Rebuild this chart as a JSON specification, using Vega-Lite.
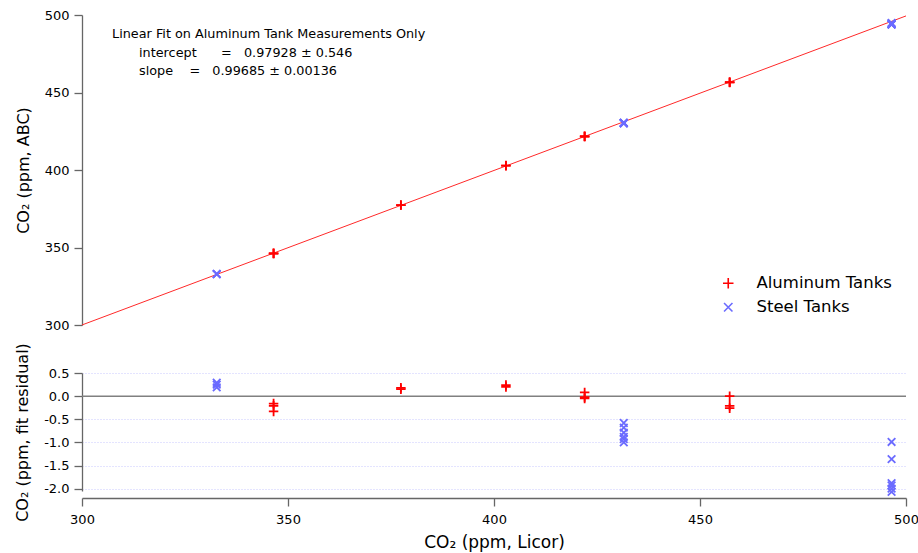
{
  "$schema": "https://vega.github.io/schema/vega-lite/v6.json",
  "padding": {"left": 14, "top": 9, "right": 5, "bottom": 5},
  "bounds": "flush",
  "spacing": 48,
  "background": "white",
  "config": {
    "font": "DejaVu Sans",
    "view": {"stroke": null},
    "axis": {
      "domainColor": "#666666",
      "domainWidth": 1.3,
      "tickColor": "#666666",
      "tickWidth": 1.3,
      "tickSize": 8,
      "tickCount": 12,
      "labelColor": "#000000",
      "labelFontSize": 13,
      "labelFont": "DejaVu Sans",
      "titleFont": "DejaVu Sans",
      "titleFontSize": 16,
      "titleFontWeight": "normal",
      "titleColor": "#000000",
      "labelOverlap": false,
      "labelFlush": false,
      "grid": false
    },
    "legend": {"labelFont": "DejaVu Sans"}
  },
  "datasets": {
    "meas": [
      {"tank": "Steel Tanks", "licor": 332.7, "abc": 332.92, "resid": 0.29},
      {"tank": "Steel Tanks", "licor": 332.7, "abc": 332.88, "resid": 0.25},
      {"tank": "Steel Tanks", "licor": 332.7, "abc": 332.82, "resid": 0.19},
      {"tank": "Aluminum Tanks", "licor": 346.5, "abc": 346.23, "resid": -0.16},
      {"tank": "Aluminum Tanks", "licor": 346.5, "abc": 346.18, "resid": -0.21},
      {"tank": "Aluminum Tanks", "licor": 346.5, "abc": 346.06, "resid": -0.33},
      {"tank": "Aluminum Tanks", "licor": 377.4, "abc": 377.34, "resid": 0.15},
      {"tank": "Aluminum Tanks", "licor": 377.4, "abc": 377.37, "resid": 0.18},
      {"tank": "Aluminum Tanks", "licor": 402.9, "abc": 402.81, "resid": 0.2},
      {"tank": "Aluminum Tanks", "licor": 402.9, "abc": 402.85, "resid": 0.24},
      {"tank": "Aluminum Tanks", "licor": 422.0, "abc": 421.73, "resid": 0.08},
      {"tank": "Aluminum Tanks", "licor": 422.0, "abc": 421.63, "resid": -0.02},
      {"tank": "Aluminum Tanks", "licor": 422.0, "abc": 421.6, "resid": -0.05},
      {"tank": "Steel Tanks", "licor": 431.5, "abc": 430.54, "resid": -0.58},
      {"tank": "Steel Tanks", "licor": 431.5, "abc": 430.44, "resid": -0.68},
      {"tank": "Steel Tanks", "licor": 431.5, "abc": 430.33, "resid": -0.79},
      {"tank": "Steel Tanks", "licor": 431.5, "abc": 430.24, "resid": -0.88},
      {"tank": "Steel Tanks", "licor": 431.5, "abc": 430.19, "resid": -0.93},
      {"tank": "Steel Tanks", "licor": 431.5, "abc": 430.12, "resid": -1.0},
      {"tank": "Aluminum Tanks", "licor": 457.2, "abc": 456.74, "resid": 0.0},
      {"tank": "Aluminum Tanks", "licor": 457.2, "abc": 456.53, "resid": -0.21},
      {"tank": "Aluminum Tanks", "licor": 457.2, "abc": 456.48, "resid": -0.26},
      {"tank": "Steel Tanks", "licor": 496.5, "abc": 494.93, "resid": -0.99},
      {"tank": "Steel Tanks", "licor": 496.5, "abc": 494.56, "resid": -1.36},
      {"tank": "Steel Tanks", "licor": 496.5, "abc": 494.04, "resid": -1.88},
      {"tank": "Steel Tanks", "licor": 496.5, "abc": 493.99, "resid": -1.93},
      {"tank": "Steel Tanks", "licor": 496.5, "abc": 493.92, "resid": -2.0},
      {"tank": "Steel Tanks", "licor": 496.5, "abc": 493.85, "resid": -2.07}
    ],
    "fit": [
      {"licor": 300, "abc": 300.03},
      {"licor": 500, "abc": 499.4}
    ]
  },
  "vconcat": [
    {
      "width": 824,
      "height": 310,
      "layer": [
        {
          "data": {"name": "fit"},
          "mark": {"type": "line", "color": "#ff2a2a", "strokeWidth": 1},
          "encoding": {
            "x": {"field": "licor", "type": "quantitative", "scale": {"domain": [300, 500], "nice": false}, "axis": null},
            "y": {"field": "abc", "type": "quantitative", "scale": {"domain": [300, 500], "nice": false},
              "axis": {"values": [300, 350, 400, 450, 500], "title": "CO₂ (ppm, ABC)", "titlePadding": 13, "labelPadding": 5}}
          }
        },
        {
          "data": {"name": "meas"},
          "mark": {"type": "point", "filled": false, "strokeWidth": 1.8, "size": 90, "opacity": 1},
          "encoding": {
            "x": {"field": "licor", "type": "quantitative"},
            "y": {"field": "abc", "type": "quantitative"},
            "color": {"field": "tank", "type": "nominal",
              "scale": {"domain": ["Aluminum Tanks", "Steel Tanks"], "range": ["#ff0000", "#6b6bff"]},
              "legend": {"title": null, "orient": "none", "legendX": 638, "legendY": 260, "labelFontSize": 16.5, "symbolSize": 110, "symbolStrokeWidth": 1.6, "labelOffset": 20, "rowPadding": 7, "padding": 0}},
            "shape": {"field": "tank", "type": "nominal",
              "scale": {"domain": ["Aluminum Tanks", "Steel Tanks"], "range": ["M-1,0L1,0M0,-1L0,1", "M-0.8,-0.8L0.8,0.8M-0.8,0.8L0.8,-0.8"]}}
          }
        },
        {
          "data": {"values": [{}]},
          "mark": {"type": "text", "align": "left", "baseline": "alphabetic", "fontSize": 12.8, "color": "#000000",
            "text": "Linear Fit on Aluminum Tank Measurements Only"},
          "encoding": {
            "x": {"datum": 307.3, "type": "quantitative"},
            "y": {"datum": 484.9, "type": "quantitative"}
          }
        },
        {
          "data": {"values": [{}]},
          "mark": {"type": "text", "align": "left", "baseline": "alphabetic", "fontSize": 12.8, "lineHeight": 18, "color": "#000000",
            "text": ["intercept\u00a0\u00a0\u00a0\u00a0\u00a0\u00a0=\u00a0\u00a0\u00a00.97928 ± 0.546",
                     "slope\u00a0\u00a0\u00a0\u00a0=\u00a0\u00a0\u00a00.99685 ± 0.00136"]},
          "encoding": {
            "x": {"datum": 313.85, "type": "quantitative"},
            "y": {"datum": 472.8, "type": "quantitative"}
          }
        }
      ]
    },
    {
      "width": 824,
      "height": 118,
      "layer": [
        {
          "data": {"values": [{}]},
          "mark": {"type": "rule", "color": "#808080", "strokeWidth": 1.5},
          "encoding": {
            "y": {"datum": 0, "type": "quantitative"}
          }
        },
        {
          "data": {"name": "meas"},
          "mark": {"type": "point", "filled": false, "strokeWidth": 1.8, "size": 90, "opacity": 1},
          "encoding": {
            "x": {"field": "licor", "type": "quantitative", "scale": {"domain": [300, 500], "nice": false},
              "axis": {"values": [300, 350, 400, 450, 500], "offset": 7, "title": "CO₂ (ppm, Licor)", "titleFontSize": 17, "labelPadding": 7, "titlePadding": 8}},
            "y": {"field": "resid", "type": "quantitative", "scale": {"domain": [-2.05, 0.5], "nice": false, "zero": false},
              "axis": {"values": [0.5, 0, -0.5, -1, -1.5, -2], "tickCount": 12, "grid": true, "gridColor": "#c8c8ff", "gridDash": [1, 2], "gridWidth": 1,
                "labelExpr": "datum.value < 0 ? '-' + format(-datum.value, '.1f') : format(datum.value, '.1f')",
                "title": "CO₂ (ppm, fit residual)", "titlePadding": 13, "labelPadding": 5}},
            "color": {"field": "tank", "type": "nominal",
              "scale": {"domain": ["Aluminum Tanks", "Steel Tanks"], "range": ["#ff0000", "#6b6bff"]}, "legend": null},
            "shape": {"field": "tank", "type": "nominal",
              "scale": {"domain": ["Aluminum Tanks", "Steel Tanks"], "range": ["M-1,0L1,0M0,-1L0,1", "M-0.8,-0.8L0.8,0.8M-0.8,0.8L0.8,-0.8"]}, "legend": null}
          }
        }
      ]
    }
  ]
}
